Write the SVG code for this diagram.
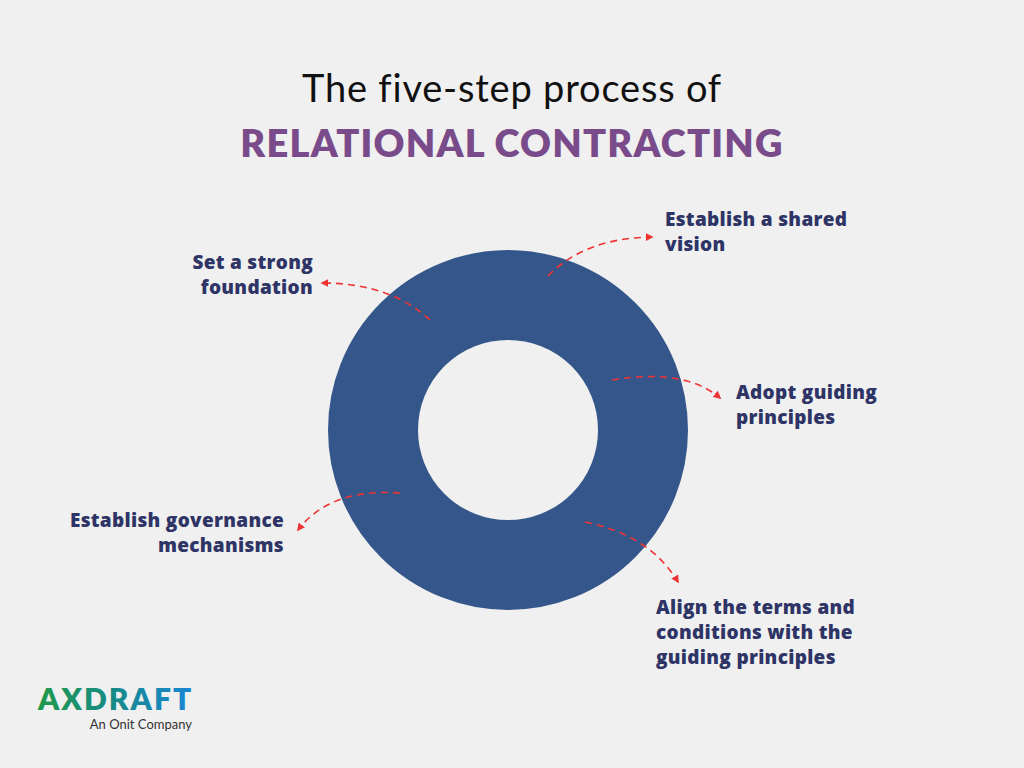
<svg xmlns="http://www.w3.org/2000/svg" width="1024" height="768" viewBox="0 0 1024 768">
<style>
.lbl{font-family:"Open Sans",Lato,sans-serif;font-weight:800;font-size:19px;fill:#2e3466;letter-spacing:0.3px}
.arr{fill:none;stroke:#ee3333;stroke-width:1.6;stroke-dasharray:7 5;marker-end:url(#ah)}
</style>
<defs><marker id="ah" viewBox="0 0 10 10" refX="8" refY="5" markerWidth="5" markerHeight="5" orient="auto"><path d="M0,0L10,5L0,10z" fill="#ee3333"/></marker></defs>
<rect width="1024" height="768" fill="#f0f0f0"/>
<text x="512" y="102" text-anchor="middle" font-family="Lato,sans-serif" font-size="38" letter-spacing="0.8" fill="#111">The five-step process of</text>
<text x="512" y="157" text-anchor="middle" font-family="Lato,sans-serif" font-weight="800" font-size="38" letter-spacing="1.2" fill="#7a4b8a">RELATIONAL CONTRACTING</text>
<g id="ring"><circle cx="508" cy="430" r="135" fill="none" stroke="#34568a" stroke-width="90"/></g>
<g id="connectors">
<path class="arr" d="M548,276 Q585,238 652,237"/>
<path class="arr" d="M430,320 Q390,283 322,283"/>
<path class="arr" d="M612,380 Q685,368 720,398"/>
<path class="arr" d="M400,493 Q330,488 298,530"/>
<path class="arr" d="M585,522 Q650,535 678,582"/>
</g>
<g id="n1"><text class="lbl" x="665" y="226">Establish a shared</text><text class="lbl" x="665" y="251">vision</text></g>
<g id="n2"><text class="lbl" x="313" y="269" text-anchor="end">Set a strong</text><text class="lbl" x="313" y="294" text-anchor="end">foundation</text></g>
<g id="n3"><text class="lbl" x="736" y="399">Adopt guiding</text><text class="lbl" x="736" y="424">principles</text></g>
<g id="n4"><text class="lbl" x="284" y="527" text-anchor="end">Establish governance</text><text class="lbl" x="284" y="552" text-anchor="end">mechanisms</text></g>
<g id="n5"><text class="lbl" x="656" y="614">Align the terms and</text><text class="lbl" x="656" y="639">conditions with the</text><text class="lbl" x="656" y="664">guiding principles</text></g>
<defs><linearGradient id="lg" x1="0" x2="1"><stop offset="0" stop-color="#1f9a4a"/><stop offset="0.5" stop-color="#178a8a"/><stop offset="1" stop-color="#1a86d6"/></linearGradient></defs>
<g id="logo"><text x="38" y="710" font-family="Lato,sans-serif" font-weight="800" font-size="30" fill="url(#lg)" letter-spacing="2">AXDRAFT</text>
<text x="192" y="729" text-anchor="end" font-family="Lato,sans-serif" font-size="13" fill="#333">An Onit Company</text></g>
</svg>
